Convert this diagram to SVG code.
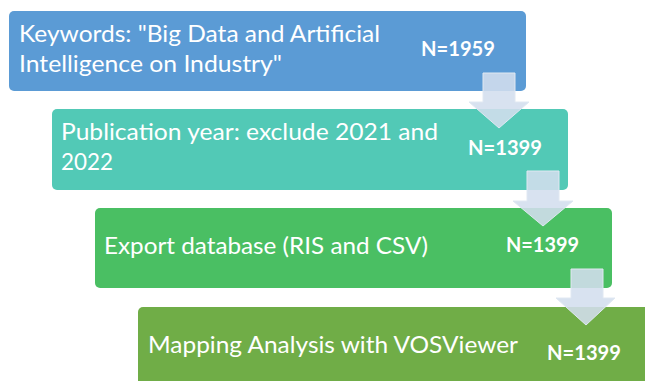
<svg xmlns="http://www.w3.org/2000/svg" width="645" height="381" viewBox="0 0 645 381">
<style>
.t{font-family:Lato,"Open Sans","Liberation Sans",sans-serif;font-size:23px;fill:#ffffff}
.n{font-family:Lato,"Open Sans","Liberation Sans",sans-serif;font-size:21px;font-weight:bold;fill:#ffffff}
.arr{fill:#d3deee;fill-opacity:0.88;stroke:#e0e8f2;stroke-width:1}
</style>
<rect width="645" height="381" fill="#ffffff"/>
<g id="node1">
<rect x="9" y="11" width="517" height="80" rx="5" fill="#5b9bd5"/>
<text class="t" x="19" y="42" textLength="361" lengthAdjust="spacingAndGlyphs">Keywords: "Big Data and Artificial</text>
<text class="t" x="19" y="72" textLength="263" lengthAdjust="spacingAndGlyphs">Intelligence on Industry"</text>
<text class="n" x="421" y="56" textLength="74" lengthAdjust="spacingAndGlyphs">N=1959</text>
</g>
<g id="node2">
<rect x="52" y="109" width="516" height="81" rx="5" fill="#52c9b6"/>
<text class="t" x="61" y="140" textLength="377" lengthAdjust="spacingAndGlyphs">Publication year: exclude 2021 and</text>
<text class="t" x="61" y="170" textLength="52" lengthAdjust="spacingAndGlyphs">2022</text>
<text class="n" x="468" y="155" textLength="74" lengthAdjust="spacingAndGlyphs">N=1399</text>
</g>
<g id="node3">
<rect x="95" y="208" width="517" height="80" rx="5" fill="#4abf63"/>
<text class="t" x="104" y="254" textLength="324" lengthAdjust="spacingAndGlyphs">Export database (RIS and CSV)</text>
<text class="n" x="506" y="252" textLength="73" lengthAdjust="spacingAndGlyphs">N=1399</text>
</g>
<g id="node4">
<rect x="138" y="307" width="520" height="90" rx="5" fill="#70ad47"/>
<text class="t" x="148" y="353" textLength="370" lengthAdjust="spacingAndGlyphs">Mapping Analysis with VOSViewer</text>
<text class="n" x="547" y="360" textLength="74" lengthAdjust="spacingAndGlyphs">N=1399</text>
</g>
<g id="connectors">
<path class="arr" d="M483,73 H515 V102 H529 L499,128 L469,102 H483 Z"/>
<path class="arr" d="M527,171 H559 V201 H573 L543,226 L513,201 H527 Z"/>
<path class="arr" d="M571,269 H603 V298 H615 L586,325 L556,298 H571 Z"/>
</g>
</svg>
